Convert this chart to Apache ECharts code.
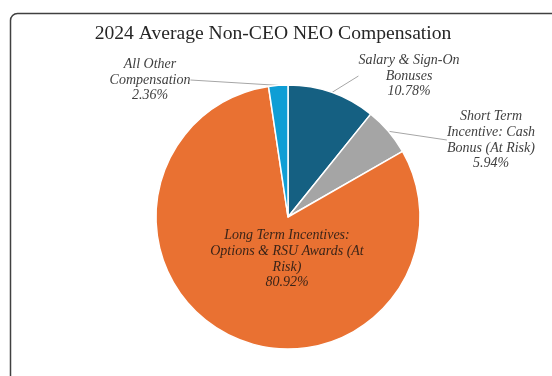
<!DOCTYPE html>
<html>
<head>
<meta charset="utf-8">
<style>
  html, body { margin: 0; padding: 0; background: #ffffff; }
  #chart { width: 552px; height: 376px; }
</style>
<script src="https://cdn.jsdelivr.net/npm/echarts@6/dist/echarts.min.js"></script>
</head>
<body>
<div id="chart"></div>
<script>
// Compensation components, clockwise from 12 o'clock (line breaks as shown in labels)
const categories = [
  'Salary & Sign-On\nBonuses',
  'Short Term\nIncentive: Cash\nBonus (At Risk)',
  'Long Term Incentives:\nOptions & RSU Awards (At\nRisk)',
  'All Other\nCompensation'
];
const shares = [10.78, 5.94, 80.92, 2.36];
const sliceColors = ['#156082', '#a5a5a5', '#e97132', '#0f9ed5'];

// Label anchor points (label centre, in pixels) for each slice
const labelAnchors = [[409, 76], [491, 140], [287, 259], [150, 80]];

const chart = echarts.init(document.getElementById('chart'), null, { renderer: 'canvas' });

const serif = '"Liberation Serif", "Times New Roman", serif';

chart.setOption({
  animation: false,
  title: {
    text: '2024 Average Non-CEO NEO Compensation',
    left: 268,
    top: 19,
    textAlign: 'center',
    textStyle: {
      fontFamily: serif,
      fontWeight: 'normal',
      fontSize: 19.6,
      color: '#262626'
    }
  },
  graphic: [{
    type: 'rect',
    shape: { x: 10.5, y: 13.5, width: 600, height: 420, r: 7 },
    style: { fill: 'none', stroke: '#404040', lineWidth: 1.5 },
    silent: true
  }],
  series: [{
    type: 'pie',
    center: [288, 217],
    radius: 132,
    startAngle: 90,
    clockwise: true,
    avoidLabelOverlap: false,
    itemStyle: { borderColor: '#ffffff', borderWidth: 1.5 },
    label: {
      show: true,
      position: 'outside',
      formatter: '{b}\n{d}%',
      fontFamily: serif,
      fontStyle: 'italic',
      fontSize: 14,
      lineHeight: 15.8,
      color: '#404040',
      align: 'center'
    },
    labelLine: {
      show: true,
      length: 10,
      length2: 0,
      lineStyle: { color: '#a6a6a6', width: 1 }
    },
    labelLayout: function (params) {
      const a = labelAnchors[params.dataIndex];
      return { x: a[0], y: a[1], align: 'center', verticalAlign: 'middle' };
    },
    data: categories.map(function (name, i) {
      const item = {
        name: name,
        value: shares[i],
        itemStyle: { color: sliceColors[i] }
      };
      if (i === 2) {
        item.label = { position: 'inside', color: '#3b2418' };
        item.labelLine = { show: false };
      }
      return item;
    })
  }]
});
</script>
</body>
</html>
